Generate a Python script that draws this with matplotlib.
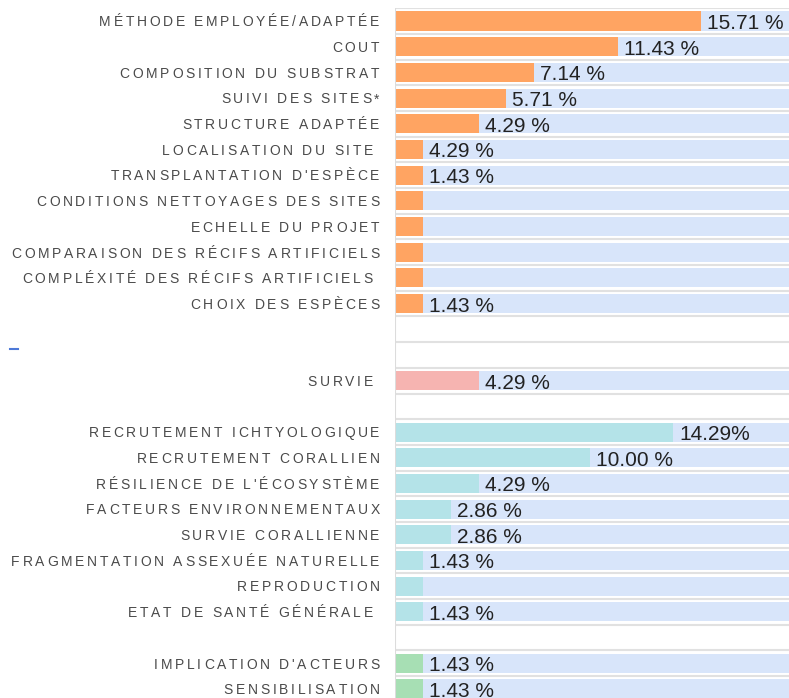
import matplotlib
matplotlib.use("Agg")
import matplotlib.pyplot as plt
from matplotlib import font_manager, ft2font
from matplotlib.lines import Line2D

# lignes du graphique (lignes vides = séparations entre groupes)
categories = [
    "MÉTHODE EMPLOYÉE/ADAPTÉE", "COUT", "COMPOSITION DU SUBSTRAT",
    "SUIVI DES SITES*", "STRUCTURE ADAPTÉE", "LOCALISATION DU SITE ",
    "TRANSPLANTATION D'ESPÈCE", "CONDITIONS NETTOYAGES DES SITES",
    "ECHELLE DU PROJET", "COMPARAISON DES RÉCIFS ARTIFICIELS",
    "COMPLÉXITÉ DES RÉCIFS ARTIFICIELS ", "CHOIX DES ESPÈCES",
    "", "",
    "SURVIE ",
    "",
    "RECRUTEMENT ICHTYOLOGIQUE", "RECRUTEMENT CORALLIEN",
    "RÉSILIENCE DE L'ÉCOSYSTÈME", "FACTEURS ENVIRONNEMENTAUX",
    "SURVIE CORALLIENNE", "FRAGMENTATION ASSEXUÉE NATURELLE",
    "REPRODUCTION", "ETAT DE SANTÉ GÉNÉRALE ",
    "",
    "IMPLICATION D'ACTEURS", "SENSIBILISATION",
]

bar_values = [15.71, 11.43, 7.14, 5.71, 4.29, 1.43, 1.43, 1.43, 1.43, 1.43, 1.43, 1.43,
              None, None,
              4.29,
              None,
              14.29, 10.00, 4.29, 2.86, 2.86, 1.43, 1.43, 1.43,
              None,
              1.43, 1.43]

value_labels = ["15.71 %", "11.43 %", "7.14 %", "5.71 %", "4.29 %", "4.29 %", "1.43 %",
                "", "", "", "", "1.43 %",
                "", "",
                "4.29 %",
                "",
                "14.29%", "10.00 %", "4.29 %", "2.86 %", "2.86 %", "1.43 %", "", "1.43 %",
                "",
                "1.43 %", "1.43 %"]

groups = (["methode"] * 12 + [None, None, "survie", None]
          + ["ecologie"] * 8 + [None] + ["social"] * 2)

group_colors = {"methode": "#ffa462", "survie": "#f6b4b1",
                "ecologie": "#b4e3e8", "social": "#a7dfb4"}
bg_color = "#d8e5fa"
x_max = 20.23

W, H = 789, 698
fig = plt.figure(figsize=(W / 100, H / 100), dpi=100)
left_px, top_px, row_px = 395, 8.15, 25.69
n = len(categories)
bottom_px = top_px + n * row_px
ax = fig.add_axes([left_px / W, (H - bottom_px) / H, 1 - left_px / W, (bottom_px - top_px) / H])
ax.set_xlim(0, x_max)
ax.set_ylim(n - 0.5, -0.5)
ax.axis("off")

rows = list(range(n))
bar_h = 0.74

# fond bleu + barres
for i in rows:
    if groups[i] is None:
        continue
    ax.barh(i, x_max, height=bar_h, color=bg_color, zorder=1)
    ax.barh(i, bar_values[i], height=bar_h, color=group_colors[groups[i]], zorder=2)

# séparateurs gris
for i in range(n + 1):
    ax.axhline(i - 0.5, color="#e1e1e1", lw=1.5, zorder=0)
ax.axvline(0, color="#dcdcdc", lw=1.5, zorder=3)

# valeurs
for i in rows:
    if value_labels[i]:
        ax.annotate(value_labels[i], xy=(bar_values[i], i), xytext=(6 * 0.72, -8 * 0.72),
                    textcoords="offset points", ha="left", va="baseline",
                    fontsize=15, family="Liberation Sans", color="#222222", zorder=4,
                    annotation_clip=False)

# libellés avec espacement des lettres
lab_size = 10
lab_prop = font_manager.FontProperties(family="Liberation Sans", size=lab_size)
ft = font_manager.get_font(font_manager.findfont(lab_prop))
ft.set_size(lab_size, 100)
try:
    no_hint = ft2font.LoadFlags.NO_HINTING
except AttributeError:
    no_hint = ft2font.LOAD_NO_HINTING


def advance(ch):
    return ft.load_char(ord(ch), flags=no_hint).linearHoriAdvance / 65536


spacing = 2.7
right_px = 379.5
for i in rows:
    x = right_px
    for ch in reversed(categories[i]):
        x -= advance(ch)
        if ch != " ":
            ax.annotate(ch, xy=(0, i), xycoords=("axes fraction", "data"),
                        xytext=((x - left_px) * 0.72, -5.3 * 0.72), textcoords="offset points",
                        ha="left", va="baseline", fontproperties=lab_prop,
                        color="#4a4a4a", annotation_clip=False)
        x -= spacing

# petit tiret bleu
fig.add_artist(Line2D([10 / W, 18 / W], [1 - 349 / H] * 2, color="#4d79d8", lw=1.5,
                      transform=fig.transFigure))

fig.savefig("out.png", dpi=100)
